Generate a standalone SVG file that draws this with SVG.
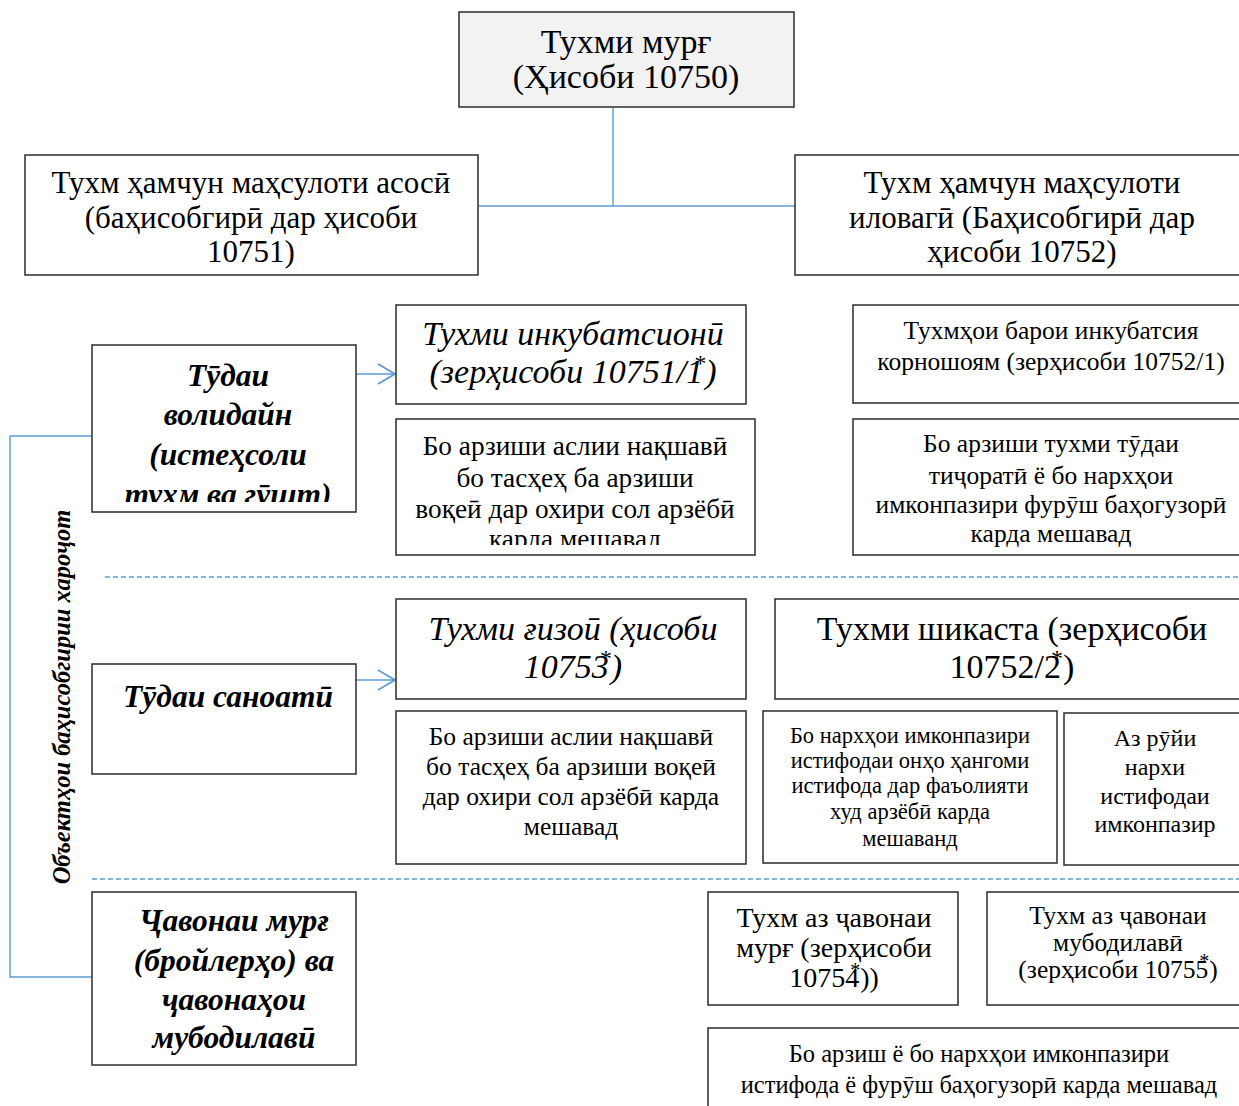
<svg xmlns="http://www.w3.org/2000/svg" width="1239" height="1106" viewBox="0 0 1239 1106">
<style>
.box{fill:#fff;stroke:#2b2b2b;stroke-width:1.5}
.top{fill:#f2f2f2;stroke:#2b2b2b;stroke-width:1.5}
.con{fill:none;stroke:#5b9bd5;stroke-width:1.4}
.dash{fill:none;stroke:#5b9bd5;stroke-width:1.4;stroke-dasharray:5 3}
text{font-family:"Liberation Serif","DejaVu Serif",serif;fill:#000;text-anchor:middle}
.h1{font-size:34px}
.h2{font-size:31px}
.bi{font-size:31.5px;font-weight:bold;font-style:italic}
.it{font-size:34px;font-style:italic}
.rg{font-size:34px}
.b28{font-size:27.3px}
.b28b{font-size:28px}
.b25{font-size:25.5px}
.b23{font-size:22.5px}
.b24{font-size:24px}
.b245{font-size:24.5px}
.vl{font-size:24.5px;font-weight:bold;font-style:italic}
.sup{font-size:24px}
.sup2{font-size:20px}
</style>
<defs>
<marker id="arr" markerUnits="userSpaceOnUse" markerWidth="20" markerHeight="24" refX="18" refY="11" orient="auto">
<path d="M1,1 L18,11 L1,21" fill="none" stroke="#5b9bd5" stroke-width="1.8"/>
</marker>
<clipPath id="c1"><rect x="92" y="345" width="264" height="157"/></clipPath>
<clipPath id="c2"><rect x="396" y="419" width="359" height="126"/></clipPath>
</defs>

<g id="connectors">
<polyline class="con" points="613,107 613,206"/>
<polyline class="con" points="478,206 795,206"/>
<polyline class="con" points="92,436 10,436 10,977 92,977"/>
<line class="con" x1="356" y1="374" x2="395" y2="374" marker-end="url(#arr)"/>
<line class="con" x1="356" y1="680" x2="395" y2="680" marker-end="url(#arr)"/>
<line class="dash" x1="105" y1="577" x2="1239" y2="577"/>
<line class="dash" x1="92" y1="879" x2="1239" y2="879"/>
</g>

<g id="n-root">
<rect class="top" x="459" y="12" width="335" height="95"/>
<text class="h1" x="626" y="53">Тухми мурғ</text>
<text class="h1" x="626" y="88">(Ҳисоби 10750)</text>
</g>

<g id="n-main">
<rect class="box" x="25" y="155" width="453" height="120"/>
<text class="h2" x="251" y="193">Тухм ҳамчун маҳсулоти асосӣ</text>
<text class="h2" x="251" y="228">(баҳисобгирӣ дар ҳисоби</text>
<text class="h2" x="251" y="262">10751)</text>
</g>

<g id="n-additional">
<rect class="box" x="795" y="155" width="460" height="120"/>
<text class="h2" x="1022" y="193">Тухм ҳамчун маҳсулоти</text>
<text class="h2" x="1022" y="228">иловагӣ (Баҳисобгирӣ дар</text>
<text class="h2" x="1022" y="262">ҳисоби 10752)</text>
</g>

<g id="n-parent-flock">
<rect class="box" x="92" y="345" width="264" height="167"/>
<g clip-path="url(#c1)">
<text class="bi" x="228" y="386">Тӯдаи</text>
<text class="bi" x="228" y="425">волидайн</text>
<text class="bi" x="228" y="465">(истеҳсоли</text>
<text class="bi" x="228" y="505">тухм ва гӯшт)</text>
</g>
</g>

<g id="n-incubation">
<rect class="box" x="396" y="305" width="350" height="99"/>
<text class="it" x="573" y="345">Тухми инкубатсионӣ</text>
<text class="it" x="573" y="383">(зерҳисоби 10751/1<tspan class="sup" dx="-10" dy="-12">*</tspan><tspan dy="12">)</tspan></text>
</g>

<g id="n-incubation-value">
<rect class="box" x="396" y="419" width="359" height="136"/>
<g clip-path="url(#c2)">
<text class="b28" x="575" y="455">Бо арзиши аслии нақшавӣ</text>
<text class="b28" x="575" y="487">бо тасҳеҳ ба арзиши</text>
<text class="b28" x="575" y="518">воқеӣ дар охири сол арзёбӣ</text>
<text class="b28" x="575" y="548">карда мешавад</text>
</g>
</g>

<g id="n-unfit">
<rect class="box" x="853" y="305" width="400" height="98"/>
<text class="b25" x="1051" y="339">Тухмҳои барои инкубатсия</text>
<text class="b25" x="1051" y="370">корношоям (зерҳисоби 10752/1)</text>
</g>

<g id="n-unfit-value">
<rect class="box" x="853" y="419" width="400" height="136"/>
<text class="b25" x="1051" y="452">Бо арзиши тухми тӯдаи</text>
<text class="b25" x="1051" y="484">тиҷоратӣ ё бо нархҳои</text>
<text class="b25" x="1051" y="513">имконпазири фурӯш баҳогузорӣ</text>
<text class="b25" x="1051" y="542">карда мешавад</text>
</g>

<g id="n-industrial">
<rect class="box" x="92" y="664" width="264" height="110"/>
<text class="bi" x="228" y="707">Тӯдаи саноатӣ</text>
</g>

<g id="n-food">
<rect class="box" x="396" y="599" width="350" height="100"/>
<text class="it" x="573" y="640">Тухми ғизоӣ (ҳисоби</text>
<text class="it" x="573" y="678">10753<tspan class="sup" dx="-10" dy="-12">*</tspan><tspan dy="12">)</tspan></text>
</g>

<g id="n-broken">
<rect class="box" x="775" y="599" width="480" height="100"/>
<text class="rg" x="1012" y="640">Тухми шикаста (зерҳисоби</text>
<text class="rg" x="1012" y="678">10752/2<tspan class="sup" dx="-10" dy="-12">*</tspan><tspan dy="12">)</tspan></text>
</g>

<g id="n-food-value">
<rect class="box" x="396" y="711" width="350" height="153"/>
<text class="b25" x="571" y="745">Бо арзиши аслии нақшавӣ</text>
<text class="b25" x="571" y="775">бо тасҳеҳ ба арзиши воқеӣ</text>
<text class="b25" x="571" y="805">дар охири сол арзёбӣ карда</text>
<text class="b25" x="571" y="835">мешавад</text>
</g>

<g id="n-broken-value">
<rect class="box" x="763" y="711" width="294" height="152"/>
<text class="b23" x="910" y="743">Бо нархҳои имконпазири</text>
<text class="b23" x="910" y="768">истифодаи онҳо ҳангоми</text>
<text class="b23" x="910" y="793">истифода дар фаъолияти</text>
<text class="b23" x="910" y="819">худ арзёбӣ карда</text>
<text class="b23" x="910" y="846">мешаванд</text>
</g>

<g id="n-broken-value2">
<rect class="box" x="1064" y="713" width="190" height="152"/>
<text class="b24" x="1155" y="746">Аз рӯйи</text>
<text class="b24" x="1155" y="775">нархи</text>
<text class="b24" x="1155" y="804">истифодаи</text>
<text class="b24" x="1155" y="832">имконпазир</text>
</g>

<g id="n-young">
<rect class="box" x="92" y="892" width="264" height="173"/>
<text class="bi" x="234" y="931">Ҷавонаи мурғ</text>
<text class="bi" x="234" y="971">(бройлерҳо) ва</text>
<text class="bi" x="234" y="1010">ҷавонаҳои</text>
<text class="bi" x="234" y="1048">мубодилавӣ</text>
</g>

<g id="n-young-hen">
<rect class="box" x="708" y="892" width="250" height="113"/>
<text class="b28b" x="834" y="927">Тухм аз ҷавонаи</text>
<text class="b28b" x="834" y="957">мурғ (зерҳисоби</text>
<text class="b28b" x="834" y="987">10754<tspan class="sup2" dx="-9" dy="-10">*</tspan><tspan dy="10">))</tspan></text>
</g>

<g id="n-young-exchange">
<rect class="box" x="987" y="892" width="266" height="113"/>
<text class="b25" x="1118" y="924">Тухм аз ҷавонаи</text>
<text class="b25" x="1118" y="951">мубодилавӣ</text>
<text class="b25" x="1118" y="978">(зерҳисоби 10755<tspan class="sup2" dx="-9" dy="-10">*</tspan><tspan dy="10">)</tspan></text>
</g>

<g id="n-young-value">
<rect class="box" x="708" y="1028" width="545" height="90"/>
<text class="b245" x="979" y="1062">Бо арзиш ё бо нархҳои имконпазири</text>
<text class="b245" x="979" y="1093">истифода ё фурӯш баҳогузорӣ карда мешавад</text>
</g>

<g id="axis-label">
<text class="vl" transform="translate(70 697) rotate(-90)">Объектҳои баҳисобгирии хароҷот</text>
</g>
</svg>
